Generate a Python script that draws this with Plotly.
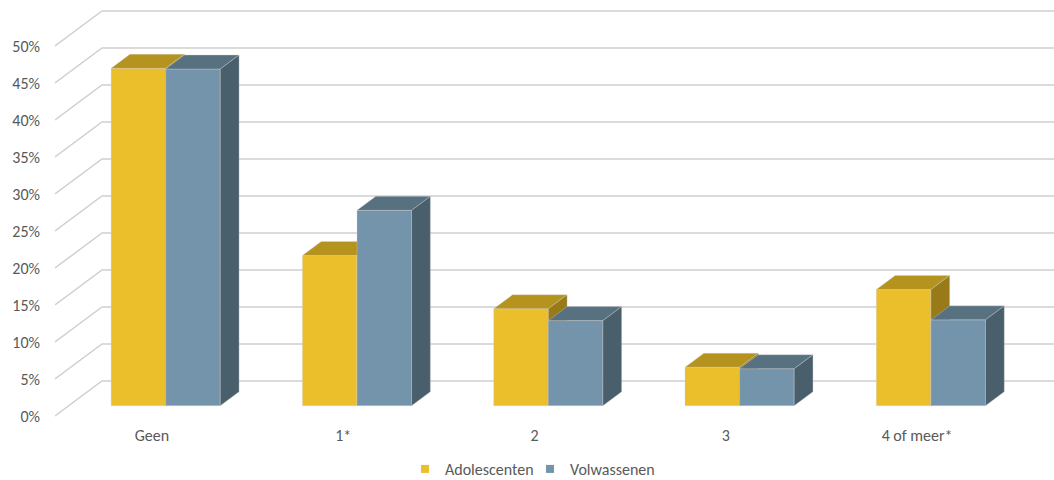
import plotly.graph_objects as go

# Categories and series values (percent)
categories = ["Geen", "1*", "2", "3", "4 of meer*"]
adolescenten = [45.6, 20.3, 13.1, 5.2, 15.7]
volwassenen = [45.5, 26.4, 11.5, 5.0, 11.6]
y_ticks = [0, 5, 10, 15, 20, 25, 30, 35, 40, 45, 50]

# Oblique "3D" projection: offset of the back wall relative to the front edge,
# in axis units (x: categories, y: percent)
WALL_DX, WALL_DY = 0.2456, 4.73
BAR_FRONT, BAR_BACK = 0.294, 0.694   # depth fractions occupied by the bars
BAR_W = 0.2853

X_RANGE = [-0.5065, 4.7157]
Y_RANGE = [-1.081, 56.216]

FONT = "Calibri, Carlito, Lato, sans-serif"
TXT = "#595959"

series = [
    ("Adolescenten", adolescenten, -1, ("#EBBE2C", "#B4931F", "#987B18")),
    ("Volwassenen", volwassenen, 0, ("#7394AA", "#587180", "#4A5F6C")),
]

fig = go.Figure()

# Gridlines: left-wall diagonal then along the back wall
gx, gy = [], []
for v in y_ticks:
    gx += [X_RANGE[0], X_RANGE[0] + WALL_DX, X_RANGE[1], None]
    gy += [v, v + WALL_DY, v + WALL_DY, None]
fig.add_trace(go.Scatter(x=gx, y=gy, mode="lines", line=dict(color="#D0D0D0", width=1.5),
                         hoverinfo="skip", showlegend=False))

fdx, fdy = BAR_FRONT * WALL_DX, BAR_FRONT * WALL_DY
ddx, ddy = (BAR_BACK - BAR_FRONT) * WALL_DX, (BAR_BACK - BAR_FRONT) * WALL_DY

for name, vals, side, (c_front, c_top, c_side) in series:
    front_x, front_y, top_x, top_y, side_x, side_y = [], [], [], [], [], []
    for i, v in enumerate(vals):
        xl = i + fdx + side * BAR_W
        xr = xl + BAR_W
        b, t = fdy, fdy + v
        front_x += [xl, xr, xr, xl, xl, None]
        front_y += [b, b, t, t, b, None]
        top_x += [xl, xr, xr + ddx, xl + ddx, xl, None]
        top_y += [t, t, t + ddy, t + ddy, t, None]
        side_x += [xr, xr + ddx, xr + ddx, xr, xr, None]
        side_y += [b, b + ddy, t + ddy, t, b, None]
    for fx, fy, col in ((front_x, front_y, c_front), (top_x, top_y, c_top), (side_x, side_y, c_side)):
        fig.add_trace(go.Scatter(x=fx, y=fy, mode="lines", fill="toself", fillcolor=col,
                                 line=dict(color="rgba(210,210,210,0.6)", width=0.6),
                                 hoverinfo="skip", showlegend=False))
    # legend entry
    fig.add_trace(go.Scatter(x=[None], y=[None], mode="markers", name=name,
                             marker=dict(symbol="square", size=8, color=c_front)))

fig.update_layout(
    width=1054, height=480,
    margin=dict(l=55, r=0, t=0, b=56, autoexpand=False),
    paper_bgcolor="white", plot_bgcolor="white",
    font=dict(family=FONT, size=16, color=TXT),
    xaxis=dict(range=X_RANGE, tickvals=list(range(len(categories))), ticktext=categories,
               showgrid=False, zeroline=False, showline=False, ticks="", automargin=False,
               tickfont=dict(size=16, color=TXT)),
    yaxis=dict(range=Y_RANGE, tickvals=y_ticks, ticktext=[f"{v}%" for v in y_ticks],
               showgrid=False, zeroline=False, showline=False, ticks="", automargin=False,
               ticklabelstandoff=14, tickfont=dict(size=16, color=TXT)),
    legend=dict(orientation="h", x=405 / 1054, xanchor="left", xref="container",
                y=1 - 469 / 480, yanchor="middle", yref="container",
                font=dict(size=16, color=TXT), itemwidth=30,
                entrywidth=80, entrywidthmode="pixels"),
    showlegend=True,
)

fig.write_html("out.html")
